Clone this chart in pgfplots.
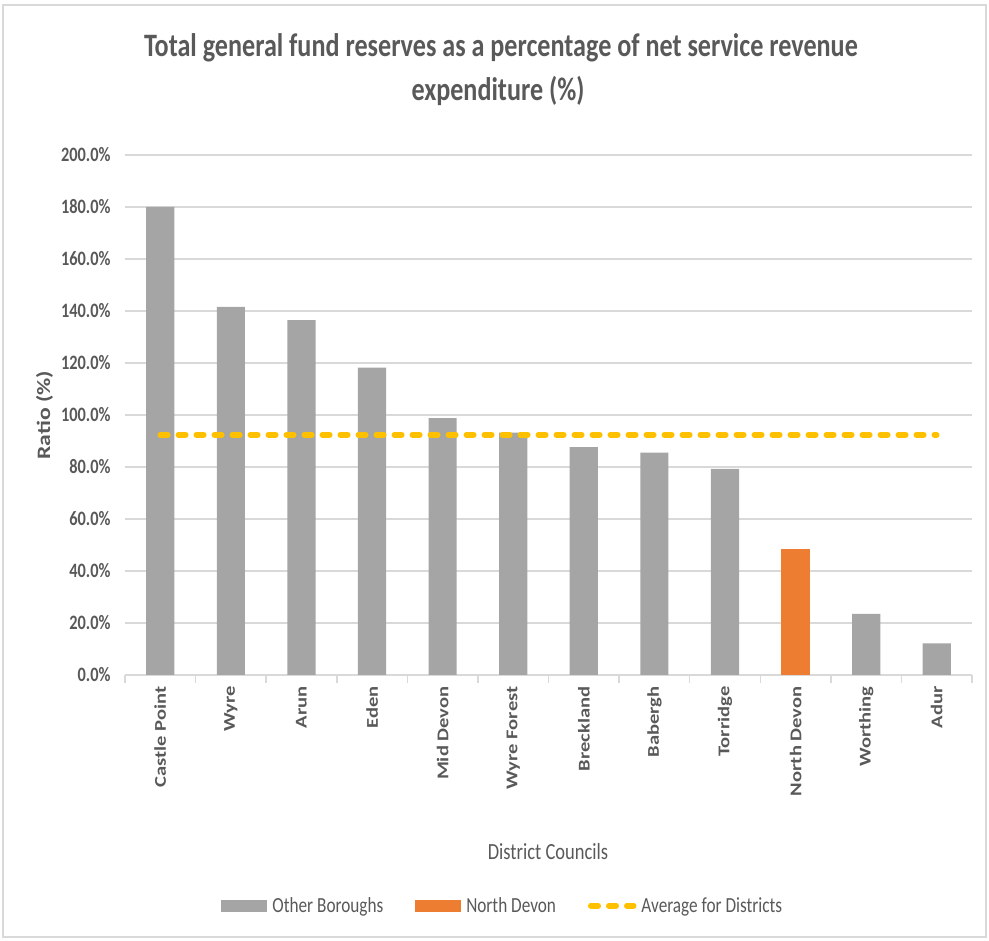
\documentclass[border=0pt]{standalone}
\usepackage{pgfplots}
\pgfplotsset{compat=1.18}
\usepackage{pgfplotstable}
\usepackage{fontspec}
\setmainfont{Carlito}
\newfontfamily\hfont[FakeStretch=0.8]{Carlito}
\newfontfamily\vfont[FakeStretch=1.25]{Carlito}
\definecolor{bargray}{HTML}{A5A5A5}
\definecolor{barorange}{HTML}{ED7D31}
\definecolor{avgyellow}{HTML}{FFC000}
\definecolor{txt}{HTML}{595959}
\definecolor{gridc}{HTML}{D9D9D9}

\pgfplotstableread{
x y
0 180.0
1 141.6
2 136.5
3 118.2
4 98.8
5 93.2
6 87.6
7 85.5
8 79.3
10 23.5
11 12.2
}\others
\pgfplotstableread{
x y
9 48.6
}\northdevon

\begin{document}
\begin{tikzpicture}
\path[use as bounding box] (0,0) rectangle (989bp,941bp);
\draw[gridc, line width=1.5bp] (3bp,4bp) rectangle (986bp,936bp);
\begin{axis}[
  at={(125bp,266bp)}, anchor=south west,
  scale only axis, width=847bp, height=520bp,
  xmin=-0.5, xmax=11.5, ymin=0, ymax=200,
  axis lines*=left,
  x axis line style={draw=gridc, line width=1.5bp},
  y axis line style={draw=none},
  ytick={0,20,...,200},
  ytick style={draw=none},
  ymajorgrids, grid style={draw=gridc, line width=1.5bp},
  /pgf/number format/assume math mode=true,
  yticklabel={\pgfmathprintnumber[fixed,fixed zerofill,precision=1]{\tick}\%},
  yticklabel style={font=\hfont\bfseries\fontsize{20.5}{22}\selectfont, text=txt, xshift=-11bp},
  xtick={0,...,11},
  xticklabels={Castle Point,Wyre,Arun,Eden,Mid Devon,Wyre Forest,Breckland,Babergh,Torridge,North Devon,Worthing,Adur},
  xtick style={draw=none},
  xticklabel style={rotate=90, anchor=east, font=\vfont\bfseries\fontsize{16.5}{18}\selectfont, text=txt},
  xticklabel shift=8bp,
  extra x ticks={-0.5,0.5,...,11.5},
  extra x tick labels={},
  extra x tick style={major tick length=8bp, tick align=outside, xtick style={draw=gridc, line width=1.5bp}, xmajorgrids=false},
  legend columns=3,
  legend style={draw=none, fill=none, at={(0.446,-0.444)}, anchor=center,
    font=\hfont\fontsize{21.6}{23}\selectfont, text=txt,
    /tikz/every even column/.append style={column sep=30bp}},
  legend cell align=left,
]
\addplot[ybar, bar width=0.4, bar shift=0pt, fill=bargray, draw=none,
  legend image code/.code={\fill[bargray] (0bp,-6bp) rectangle (46bp,6bp); \path (49bp,0bp);}]
  table[x=x,y=y] {\others};
\addlegendentry{Other Boroughs}
\addplot[ybar, bar width=0.4, bar shift=0pt, fill=barorange, draw=none,
  legend image code/.code={\fill[barorange] (0bp,-6bp) rectangle (46bp,6bp); \path (49bp,0bp);}]
  table[x=x,y=y] {\northdevon};
\addlegendentry{North Devon}
\addplot[avgyellow, line width=5.5bp, line cap=round, dash pattern=on 7.5bp off 10.5bp, mark=none,
  legend image code/.code={\draw[avgyellow, line width=5.5bp, line cap=round, dash pattern=on 7.5bp off 10.5bp] (3bp,0bp) -- (46bp,0bp); \path (49bp,0bp);}]
  coordinates {(0,92.4) (11,92.4)};
\addlegendentry{Average for Districts}
\end{axis}
\node[font=\hfont\bfseries\fontsize{32.8}{34}\selectfont, text=txt] at (501bp,893bp) {Total general fund reserves as a percentage of net service revenue};
\node[font=\hfont\bfseries\fontsize{32.8}{34}\selectfont, text=txt] at (498bp,850bp) {expenditure (\%)};
\node[rotate=90, font=\vfont\bfseries\fontsize{19}{20}\selectfont, text=txt] at (44.5bp,526bp) {Ratio (\%)};
\node[font=\hfont\fontsize{23.2}{24}\selectfont, text=txt] at (548bp,89bp) {District Councils};
\end{tikzpicture}
\end{document}
